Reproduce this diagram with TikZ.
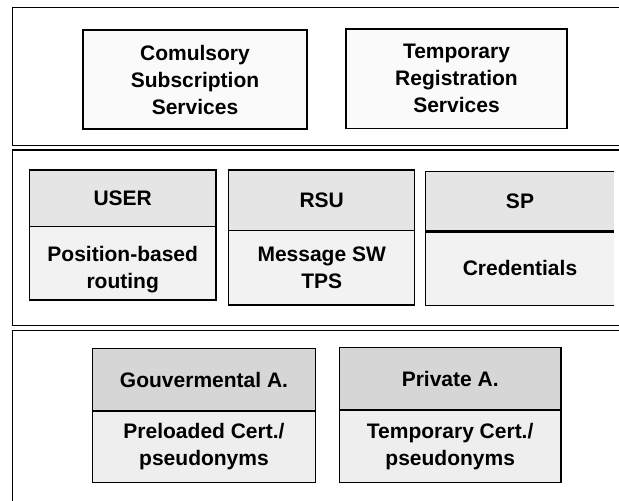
\documentclass[tikz,border=0pt]{standalone}
\usepackage{fontspec}
\setmainfont{Liberation Sans}
\begin{document}
\begin{tikzpicture}[x=1pt,y=-1pt,
  panel/.style={line width=1.1pt},
  cellfont/.style={font=\bfseries\fontsize{21}{27}\selectfont},
  cell/.style={draw, line width=1.3pt, align=center, inner sep=0pt, cellfont},
  plain/.style={cell, fill=gray!4},
  headA/.style={cell, fill=gray!20},
  bodyA/.style={cell, fill=gray!10},
  headB/.style={cell, fill=gray!32},
  bodyB/.style={cell, fill=gray!13},
  opencell/.style={align=center, inner sep=0pt, cellfont}]
\useasboundingbox (0,0) rectangle (619,501);
\clip (0,0) rectangle (619,501);
\fill[white] (0,0) rectangle (619,501);

% three stacked layers, open on the right
\draw[panel] (640,7.3) -- (12.3,7.3) -- (12.3,145.7) -- (640,145.7);
\draw[panel] (640,150) -- (12.3,150) -- (12.3,325.7) -- (640,325.7);
\draw[panel] (640,330.7) -- (12.3,330.7) -- (12.3,520);

% services layer
\node[plain, minimum width=224pt, minimum height=99pt] (css) at (195,79.5)
  {Comulsory\\Subscription\\Services};
\node[plain, minimum width=221pt, minimum height=99.5pt] (trs) at (456.5,78.75)
  {Temporary\\Registration\\Services};

% entities layer
\node[headA, minimum width=186.7pt, minimum height=56.7pt] (userh) at (122.7,198.3) {USER};
\node[bodyA, minimum width=186.7pt, minimum height=73.3pt] (userb) at (122.7,263.3)
  {\rule{0pt}{27pt}Position-based\\routing};
\node[headA, minimum width=186pt, minimum height=60.7pt] (rsuh) at (321.7,200.3) {RSU};
\node[bodyA, minimum width=186pt, minimum height=74.3pt] (rsub) at (321.7,267.8)
  {Message SW\\TPS};
\node[opencell, fill=gray!20, minimum width=188pt, minimum height=60pt] (sph) at (520,201.7) {SP};
\node[opencell, fill=gray!10, minimum width=188pt, minimum height=73.3pt] (spb) at (520,268.3) {Credentials};
\draw[line width=1.3pt] (sph.north east) -- (sph.north west) -- (spb.south west) -- (spb.south east);
\draw[line width=3pt] (sph.south west) -- (sph.south east);

% authorities layer
\node[headB, minimum width=223.4pt, minimum height=62.7pt] (govh) at (204,379.7) {Gouvermental A.};
\node[bodyB, minimum width=223.4pt, minimum height=71.3pt] (govb) at (204,446.7)
  {Preloaded Cert./\\pseudonyms};
\node[headB, minimum width=221.7pt, minimum height=62.7pt] (privh) at (450.2,378.7) {Private A.};
\node[bodyB, minimum width=221.7pt, minimum height=72.3pt] (privb) at (450.2,446.2)
  {Temporary Cert./\\pseudonyms};
\end{tikzpicture}
\end{document}
